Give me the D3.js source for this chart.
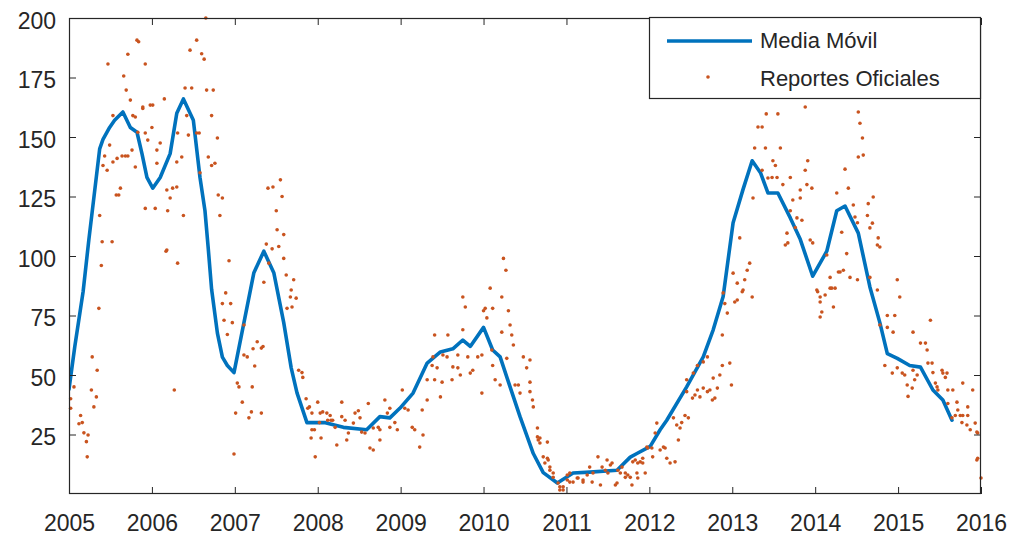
<!DOCTYPE html>
<html>
<head>
<meta charset="utf-8">
<script src="https://cdn.jsdelivr.net/npm/d3@7"></script>
<style>
  html, body { margin: 0; padding: 0; background: #ffffff; }
  svg { display: block; }
  text { font-family: "Liberation Sans", Arial, Helvetica, sans-serif; fill: #262626; }
</style>
</head>
<body>
<svg id="chart" width="1016" height="535"></svg>
<script>
// Eje X: años; eje Y: valores
const aniosTicks = [2005, 2006, 2007, 2008, 2009, 2010, 2011, 2012, 2013, 2014, 2015, 2016];
const valoresTicks = [25, 50, 75, 100, 125, 150, 175, 200];

// Media móvil: [fecha decimal, valor]
const mediaMovil = [
  [2005.00,44],[2005.07,62],[2005.17,85],[2005.24,107],[2005.37,145],[2005.41,149],[2005.49,154],
  [2005.55,157],[2005.65,160.5],[2005.74,154],[2005.82,152],[2005.88,143],[2005.94,133],[2006.01,128.5],
  [2006.10,133],[2006.22,143],[2006.30,160],[2006.38,166],[2006.50,157],[2006.58,133],[2006.64,119],
  [2006.68,103],[2006.72,86],[2006.79,67.6],[2006.85,57.5],[2006.91,54],[2006.99,51],[2007.11,72],
  [2007.23,93],[2007.35,102],[2007.47,93],[2007.59,72],[2007.68,53],[2007.75,42.5],[2007.87,30],
  [2008.08,30],[2008.31,28],[2008.59,27],[2008.75,32.5],[2008.87,32],[2008.99,36],[2009.15,42.4],
  [2009.32,55],[2009.48,59.7],[2009.63,61],[2009.75,64.7],[2009.84,62],[2010.00,70],[2010.11,60.5],
  [2010.20,57.6],[2010.32,45],[2010.44,32.5],[2010.60,17],[2010.72,9],[2010.89,4.6],[2011.08,8.8],
  [2011.28,9.2],[2011.61,10],[2011.77,15.5],[2011.85,17],[2012.01,20],[2012.13,27],[2012.21,31],
  [2012.45,45],[2012.65,57.6],[2012.77,69],[2012.89,83],[2013.01,114],[2013.13,128],[2013.24,140],
  [2013.34,135],[2013.43,126.5],[2013.55,126.5],[2013.70,116],[2013.82,107],[2013.97,91.5],[2014.14,102],
  [2014.26,119],[2014.36,121],[2014.52,109.6],[2014.66,87],[2014.78,72],[2014.87,59],[2014.99,57],
  [2015.14,54],[2015.27,53.3],[2015.42,43.7],[2015.54,39.5],[2015.65,31]
];

// Reportes oficiales: [fecha decimal, valor]
const reportes2005 = [
  [2005.02,40],[2005.02,36],[2005.06,45],[2005.12,29.5],[2005.14,33],[2005.16,30],[2005.18,25.7],
  [2005.21,22],[2005.22,15.6],[2005.23,24.8],[2005.27,43.7],[2005.28,57.6],[2005.30,36.6],[2005.33,40.8],
  [2005.34,52],[2005.36,78],[2005.37,117],[2005.39,96],[2005.40,106],[2005.41,138],[2005.43,142],
  [2005.46,136],[2005.47,180.7],[2005.49,146.6],[2005.52,106],[2005.53,139.5],[2005.53,159],[2005.57,125.6],
  [2005.58,141],[2005.60,125.6],[2005.62,128.5],[2005.64,142],[2005.66,175.6],[2005.68,142],[2005.69,169.7],
  [2005.71,142],[2005.71,184.8],[2005.74,165.5],[2005.76,144.5],[2005.77,159],[2005.80,137.4],[2005.80,158.4],
  [2005.82,190.7],[2005.83,152],[2005.84,190],[2005.89,162.6],[2005.89,162],[2005.92,151.7],[2005.92,120],
  [2005.92,180.7],[2005.95,148.7],[2005.98,163.4]
];
const reportes2006 = [
  [2006.00,154],[2006.01,163.4],[2006.04,120],[2006.06,144.5],[2006.06,139],[2006.10,147.5],[2006.15,166],
  [2006.17,102],[2006.18,102.5],[2006.18,127.7],[2006.19,119],[2006.22,124.4],[2006.25,128.5],[2006.27,43.7],
  [2006.30,129],[2006.30,139.5],[2006.31,151.7],[2006.31,97],[2006.36,141.6],[2006.38,117],[2006.40,170.6],
  [2006.42,159],[2006.44,150.8],[2006.46,186.5],[2006.48,170.6],[2006.54,151.7],[2006.54,190.7],[2006.57,151.7],
  [2006.58,135],[2006.60,185],[2006.63,182.7],[2006.65,200],[2006.66,169.7],[2006.68,141.6],[2006.72,159],
  [2006.72,138],[2006.74,169.7],[2006.76,139],[2006.79,149.6],[2006.80,125.6],[2006.82,117],[2006.85,124.4],
  [2006.85,80],[2006.87,73],[2006.89,84.5],[2006.91,67],[2006.93,98],[2006.95,80],[2006.97,72],[2006.99,16.8]
];
const reportes2007 = [
  [2007.01,34],[2007.03,46.6],[2007.05,45],[2007.09,38.6],[2007.11,71],[2007.11,58.4],[2007.15,57.6],
  [2007.17,32],[2007.20,34.5],[2007.21,45],[2007.22,61],[2007.24,53.8],[2007.27,64],[2007.32,34],
  [2007.32,61.3],[2007.34,62],[2007.35,89],[2007.38,105],[2007.40,128.5],[2007.41,97],[2007.45,103],
  [2007.46,129],[2007.50,119],[2007.51,111],[2007.53,104],[2007.55,132],[2007.57,125],[2007.59,99],
  [2007.59,109],[2007.62,92],[2007.63,78],[2007.67,82.8],[2007.68,85.7],[2007.69,78.6],[2007.71,90],
  [2007.74,82.3],[2007.77,52],[2007.81,51],[2007.82,49],[2007.86,40],[2007.88,36],[2007.90,36.6],
  [2007.92,23.5],[2007.93,34],[2007.93,27],[2007.96,27],[2007.97,15.6]
];
const reportes2008 = [
  [2008.00,38.6],[2008.02,30],[2008.03,34],[2008.04,23.5],[2008.06,34.5],[2008.11,34],[2008.12,31],
  [2008.15,33],[2008.16,31],[2008.18,31],[2008.21,28],[2008.23,20.6],[2008.29,38.6],[2008.29,32.5],
  [2008.33,31],[2008.35,22.7],[2008.37,25.6],[2008.43,29.8],[2008.45,34],[2008.49,35],[2008.51,32],
  [2008.53,26],[2008.57,25.6],[2008.61,38],[2008.63,19.3],[2008.67,18.5],[2008.67,27.7],[2008.73,28],
  [2008.75,27],[2008.75,22.7],[2008.81,39.5],[2008.84,34],[2008.87,36],[2008.87,28],[2008.93,30],[2008.96,27]
];
const reportes2009 = [
  [2009.02,43.7],[2009.05,36],[2009.09,35.3],[2009.14,28],[2009.17,27],[2009.23,19.7],[2009.26,35.3],
  [2009.27,24.8],[2009.32,39.5],[2009.32,48],[2009.38,54],[2009.39,57.6],[2009.41,66.8],[2009.41,48],
  [2009.44,53],[2009.48,40.8],[2009.50,47],[2009.51,58.4],[2009.56,57.6],[2009.57,66.8],[2009.62,48],
  [2009.63,53.4],[2009.69,53],[2009.69,58.4],[2009.72,50],[2009.75,69],[2009.75,82.8],[2009.78,78.6],
  [2009.81,57.6],[2009.84,50.8],[2009.87,52],[2009.93,57.6],[2009.98,58.4],[2009.98,42.4]
];
const reportes2010 = [
  [2010.00,77],[2010.02,78],[2010.04,74],[2010.08,86.5],[2010.10,60.5],[2010.11,78],[2010.11,54],
  [2010.14,48],[2010.20,45.8],[2010.22,82.8],[2010.22,68],[2010.24,99],[2010.27,94],[2010.28,57],
  [2010.30,77],[2010.32,71],[2010.34,66.8],[2010.36,62.6],[2010.38,45.8],[2010.42,45.8],[2010.44,42.4],
  [2010.48,57.6],[2010.52,53],[2010.56,56.3],[2010.56,47],[2010.56,43],[2010.59,39.5],[2010.60,36.6],
  [2010.65,27.7],[2010.65,24],[2010.66,22.7],[2010.68,21.4],[2010.68,23.5],[2010.72,15.6],[2010.74,13],
  [2010.77,21.8],[2010.77,15],[2010.78,14.3],[2010.80,10],[2010.80,11.3],[2010.84,7],[2010.84,8.8],
  [2010.90,4.6],[2010.92,1.7],[2010.92,3],[2010.96,3],[2010.96,1.7]
];
const reportes2011 = [
  [2011.01,5.9],[2011.01,8],[2011.04,8.8],[2011.04,5],[2011.08,5],[2011.13,6.7],[2011.14,6.7],
  [2011.20,5.9],[2011.20,5],[2011.25,8],[2011.28,11.3],[2011.31,5],[2011.32,8.8],[2011.38,15.6],
  [2011.41,3.8],[2011.43,11.3],[2011.47,10],[2011.49,14.3],[2011.50,8.8],[2011.53,12.2],[2011.55,13],
  [2011.59,3.8],[2011.61,4.6],[2011.62,10],[2011.65,8.8],[2011.67,11.3],[2011.71,7],[2011.71,8.8],
  [2011.74,8],[2011.77,7],[2011.79,3.8],[2011.80,13.5],[2011.83,14.3],[2011.85,8.8],[2011.86,13],
  [2011.86,6.7],[2011.89,13.5],[2011.92,15],[2011.92,13],[2011.95,8.8],[2011.97,19.7],[2011.98,19.3]
];
const reportes2012 = [
  [2012.03,19.3],[2012.04,15.6],[2012.07,25.6],[2012.09,29.8],[2012.13,18.5],[2012.17,19.7],[2012.19,19.3],
  [2012.21,15],[2012.25,13],[2012.29,32],[2012.31,13.5],[2012.33,29],[2012.35,22.7],[2012.37,27.7],
  [2012.39,30],[2012.43,33],[2012.45,43],[2012.45,48],[2012.47,32],[2012.52,40.3],[2012.53,50.8],
  [2012.55,41.6],[2012.58,43.7],[2012.58,54],[2012.61,40.8],[2012.65,44.5],[2012.65,55.5],[2012.70,43],
  [2012.70,57.6],[2012.73,43.7],[2012.76,39.5],[2012.77,48.7],[2012.79,40.3],[2012.82,44.5],[2012.85,50],
  [2012.88,54],[2012.88,66.8],[2012.89,84.5],[2012.91,80],[2012.94,76],[2012.97,55],[2012.99,45.8]
];
const reportes2013 = [
  [2013.01,92.8],[2013.03,80.7],[2013.06,88.6],[2013.06,81.5],[2013.09,107.6],[2013.12,85],[2013.13,85.7],
  [2013.15,90],[2013.18,94],[2013.21,97],[2013.24,82.8],[2013.25,124.4],[2013.27,145.4],[2013.31,154.2],
  [2013.36,154.2],[2013.36,136],[2013.40,145.4],[2013.41,159.7],[2013.43,132.8],[2013.48,133],[2013.49,140],
  [2013.52,138],[2013.54,133],[2013.55,159.7],[2013.58,145.4],[2013.61,130],[2013.64,104.6],[2013.66,109.6],
  [2013.67,105.5],[2013.70,133],[2013.70,119],[2013.73,123.5],[2013.76,112],[2013.78,116],[2013.82,127.7],
  [2013.82,124.4],[2013.84,115],[2013.88,136],[2013.88,162.6],[2013.90,130],[2013.91,140],[2013.94,106.7],
  [2013.96,128.5],[2013.97,105.5]
];
const reportes2014 = [
  [2014.02,85.7],[2014.03,85],[2014.06,80.7],[2014.06,82.8],[2014.08,76.5],[2014.06,74.4],[2014.12,83.6],
  [2014.14,100.4],[2014.18,86.5],[2014.18,91],[2014.20,86.5],[2014.22,78.6],[2014.24,86.5],[2014.26,126.5],
  [2014.28,93.3],[2014.32,110],[2014.30,93.3],[2014.34,94],[2014.36,136.5],[2014.38,101],[2014.40,128.5],
  [2014.42,91],[2014.46,121.4],[2014.48,116.4],[2014.51,114],[2014.51,90],[2014.52,160.5],[2014.52,141.6],
  [2014.54,155.8],[2014.57,149.6],[2014.58,142.4],[2014.63,117],[2014.64,122],[2014.66,111.8],[2014.66,91],
  [2014.69,113.8],[2014.70,124.8],[2014.75,104.6],[2014.75,85.7],[2014.76,107.6],[2014.78,103.8],[2014.78,71],
  [2014.84,54],[2014.87,75],[2014.87,70],[2014.93,50.8],[2014.94,68],[2014.96,75],[2014.99,90],[2014.99,53]
];
const reportes2015 = [
  [2015.02,82.8],[2015.05,50.8],[2015.08,50],[2015.11,45.8],[2015.12,41],[2015.17,44.5],[2015.18,52],
  [2015.18,68],[2015.20,48],[2015.23,50],[2015.27,63.4],[2015.33,63.4],[2015.35,60.5],[2015.36,55],
  [2015.39,73],[2015.41,55],[2015.42,51],[2015.45,46.6],[2015.47,45],[2015.48,43.7],[2015.53,52],
  [2015.54,50.8],[2015.57,49],[2015.59,50.8],[2015.60,43.7],[2015.60,38],[2015.65,32],[2015.66,43.7],
  [2015.69,33],[2015.71,38.6],[2015.72,35.3],[2015.75,33],[2015.77,30],[2015.78,46.6],[2015.78,33],
  [2015.83,29],[2015.84,33],[2015.84,36.6],[2015.87,27],[2015.90,43.7],[2015.93,29.8],[2015.95,26],
  [2015.95,14.3],[2015.96,25.6],[2015.96,15],[2016.00,6.7]
];
const reportesOficiales = [].concat(
  reportes2005, reportes2006, reportes2007, reportes2008, reportes2009, reportes2010,
  reportes2011, reportes2012, reportes2013, reportes2014, reportes2015
);

const etiquetas = ["Media Móvil", "Reportes Oficiales"];
const colorLinea = "#0072BD";
const colorPuntos = "#C9541F";
const colorEjes = "#262626";

const svg = d3.select("#chart");
svg.append("rect").attr("width", 1016).attr("height", 535).attr("fill", "#ffffff");

const area = { left: 69, right: 981, top: 18, bottom: 494 };
const x = d3.scaleLinear().domain([2005, 2016]).range([area.left, area.right]);
const y = d3.scaleLinear().domain([0, 200]).range([area.bottom, area.top]);

svg.append("clipPath").attr("id", "recorte")
  .append("rect")
  .attr("x", area.left).attr("y", area.top - 2)
  .attr("width", area.right - area.left).attr("height", area.bottom - area.top + 2);

// Curva de media móvil
svg.append("path")
  .datum(mediaMovil)
  .attr("clip-path", "url(#recorte)")
  .attr("fill", "none")
  .attr("stroke", colorLinea)
  .attr("stroke-width", 3.6)
  .attr("stroke-linejoin", "round")
  .attr("stroke-linecap", "round")
  .attr("d", d3.line().x(d => x(d[0])).y(d => y(d[1])));

// Puntos de reportes oficiales
svg.append("g")
  .selectAll("circle")
  .data(reportesOficiales)
  .join("circle")
  .attr("cx", d => x(d[0]))
  .attr("cy", d => y(d[1]))
  .attr("r", 1.8)
  .attr("fill", colorPuntos);

// Ejes con marcas hacia dentro y caja completa
const tam = 7;
const ejeInf = svg.append("g").attr("transform", `translate(0,${area.bottom})`)
  .call(d3.axisBottom(x).tickValues(aniosTicks).tickFormat(d3.format("d"))
    .tickSizeInner(-tam).tickSizeOuter(0).tickPadding(21));
const ejeSup = svg.append("g").attr("transform", `translate(0,${area.top})`)
  .call(d3.axisTop(x).tickValues(aniosTicks).tickFormat("").tickSizeInner(-tam).tickSizeOuter(0));
const ejeIzq = svg.append("g").attr("transform", `translate(${area.left},0)`)
  .call(d3.axisLeft(y).tickValues(valoresTicks).tickFormat(d3.format("d"))
    .tickSizeInner(-tam).tickSizeOuter(0).tickPadding(13));
const ejeDer = svg.append("g").attr("transform", `translate(${area.right},0)`)
  .call(d3.axisRight(y).tickValues(valoresTicks).tickFormat("").tickSizeInner(-tam).tickSizeOuter(0));

[ejeInf, ejeSup, ejeIzq, ejeDer].forEach(g => {
  g.select(".domain").remove();
  g.selectAll("line").attr("stroke", colorEjes).attr("stroke-width", 1);
  g.selectAll("text").attr("fill", colorEjes).style("font-size", "23px")
    .style("font-family", '"Liberation Sans", Arial, sans-serif');
});
ejeIzq.selectAll("text").attr("dy", "0.45em");

svg.append("rect")
  .attr("x", area.left + 0.5).attr("y", area.top + 0.5)
  .attr("width", area.right - area.left - 1).attr("height", area.bottom - area.top - 1)
  .attr("fill", "none").attr("stroke", colorEjes).attr("stroke-width", 1.2);

// Leyenda
const leyenda = svg.append("g");
leyenda.append("rect")
  .attr("x", 649.5).attr("y", 17.5).attr("width", 331).attr("height", 81)
  .attr("fill", "#ffffff").attr("stroke", colorEjes).attr("stroke-width", 1.2);
leyenda.append("line")
  .attr("x1", 667).attr("x2", 752).attr("y1", 41).attr("y2", 41)
  .attr("stroke", colorLinea).attr("stroke-width", 3.6);
leyenda.append("circle")
  .attr("cx", 708).attr("cy", 77).attr("r", 1.8).attr("fill", colorPuntos);
leyenda.selectAll("text.etq")
  .data(etiquetas)
  .join("text")
  .attr("class", "etq")
  .attr("x", 760)
  .attr("y", (d, i) => 48 + i * 38)
  .style("font-size", "22px")
  .text(d => d);
</script>
</body>
</html>
